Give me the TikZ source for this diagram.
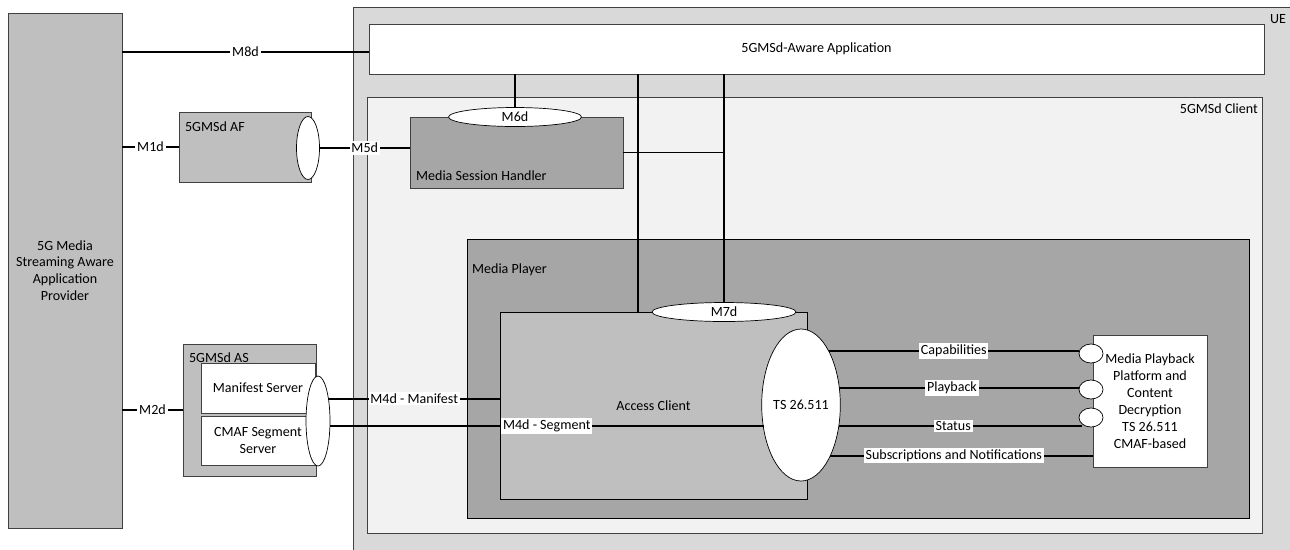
\documentclass[tikz,border=0pt]{standalone}
\usepackage{fontspec}
\setmainfont{Carlito}
\usetikzlibrary{positioning,fit,shapes.geometric}

\begin{document}
\begin{tikzpicture}[
    x=0.02cm, y=-0.02cm,
    box/.style={draw=black!75, inner sep=0pt, outer sep=0pt},
    port/.style={ellipse, draw=black, fill=white, inner sep=0pt, outer sep=0pt},
    lbl/.style={fill=white, inner sep=1pt},
    tag/.style={inner sep=1pt},
    lines/.style={align=center, inner sep=0pt},
    link/.style={line width=1pt},
    every node/.style={font=\fontsize{8}{9.6}\selectfont}
  ]
  \useasboundingbox (0,0) rectangle (1290,549);
  \clip (0,0) rectangle (1290,549);

  % UE side
  \node[box, fill=black!15, fit={(353,7) (1291,550)}] (ue) {};
  \node[tag, anchor=base east] (ueTxt) at ([shift={(-0.06cm,-0.32cm)}]ue.north east) {UE};
  \node[box, fill=white, fit={(369,24) (1264,74)}] (app) {};
  \node[lines] (appTxt) at (app.center) {5GMSd-Aware Application};
  \node[box, fill=black!5, fit={(367,97) (1262,533)}] (client) {};
  \node[tag, anchor=base east] (clientTxt) at ([shift={(-0.04cm,-0.32cm)}]client.north east) {5GMSd Client};

  \node[box, fill=black!35, fit={(410,117) (623,188)}] (msh) {};
  \node[tag, anchor=base west] (mshTxt) at ([shift={(0.08cm,0.16cm)}]msh.south west) {Media Session Handler};
  \node[port, minimum width=2.66cm, minimum height=0.38cm] (m6d) at (515,117) {M6d};

  \node[box, draw=black, fill=black!35, fit={(467,239) (1249,518)}] (mp) {};
  \node[tag, anchor=base west] (mpTxt) at ([shift={(0.06cm,-0.68cm)}]mp.north west) {Media Player};
  \node[box, draw=black, fill=black!25, fit={(500,312) (807,499)}] (ac) {};
  \node[lines] (acTxt) at (ac.center) {Access Client};
  \node[port, minimum width=2.88cm, minimum height=0.38cm] (m7d) at (724,312) {M7d};
  \node[port, minimum width=1.42cm, minimum height=3.04cm] (ts) at (801,405) {TS 26.511};

  \node[box, fill=white, fit={(1093,335) (1207,467)}] (mpp) {};
  \node[lines] (mppTxt) at (mpp.center)
    {Media Playback\\Platform and\\Content\\Decryption\\TS 26.511\\CMAF-based};
  \node[port, minimum width=0.48cm, minimum height=0.38cm] (cap) at (1091,353.5) {};
  \node[port, minimum width=0.48cm, minimum height=0.38cm] (play) at (1091,389.5) {};
  \node[port, minimum width=0.48cm, minimum height=0.38cm] (stat) at (1091,417.5) {};

  % network side
  \node[box, fill=black!25, fit={(8,13) (122,528)}] (prov) {};
  \node[lines] (provTxt) at (prov.center)
    {5G Media\\Streaming Aware\\Application\\Provider};

  \node[box, fill=black!25, fit={(179,112) (311,182)}] (af) {};
  \node[tag, anchor=north west] (afTxt) at ([shift={(0.08cm,-0.16cm)}]af.north west) {5GMSd AF};
  \node[port, minimum width=0.46cm, minimum height=1.26cm] (afPort) at (308,148) {};

  \node[box, fill=black!25, fit={(183,344) (316,476)}] (as) {};
  \node[tag, anchor=north west] (asTxt) at ([shift={(0.08cm,-0.14cm)}]as.north west) {5GMSd AS};
  \node[box, fill=white, fit={(201,363) (315,413)}] (mfs) {};
  \node[lines] (mfsTxt) at (mfs.center) {Manifest Server};
  \node[box, fill=white, fit={(201,416) (315,465)}] (cmaf) {};
  \node[lines] (cmafTxt) at (cmaf.center) {CMAF Segment\\Server};
  \node[port, minimum width=0.48cm, minimum height=1.8cm] (asPort) at (318,421) {};

  % reference points
  \coordinate (appIn) at ([yshift=-0.06cm]app.west);
  \draw[link] (prov.east |- appIn) -- (appIn) node[lbl, midway] {M8d};
  \draw[link] (prov.east |- af.west) -- (af.west) node[lbl, midway] {M1d};
  \draw[link] (prov.east |- as.west) -- (as.west) node[lbl, midway] {M2d};
  \draw[link] (afPort.east) -- (afPort.east -| msh.west) node[lbl, midway] {M5d};
  \draw[link] (m6d.north) -- (m6d.north |- app.south);
  \coordinate (acTop) at ([xshift=-0.31cm]ac.north);
  \draw[line width=0.8pt] (acTop) -- (acTop |- app.south);
  \draw[link] (m7d.north) -- (m7d.north |- app.south);
  \draw[link] (msh.east) -- (msh.east -| m7d.north);
  \draw[link] (asPort.65) -- (asPort.65 -| ac.west) node[lbl, midway] {M4d - Manifest};
  \draw[link] (asPort.-23) -- (asPort.-23 -| ts.212) node[lbl, midway] {M4d - Segment};
  \draw[link] (ts.63) -- (ts.63 -| cap.west) node[lbl, midway] {Capabilities};
  \draw[link] (ts.24) -- (ts.24 -| play.west) node[lbl, pos=0.47] {Playback};
  \draw[link] (ts.-29) -- (ts.-29 -| stat.-144) node[lbl, pos=0.47] {Status};
  \draw[link] (ts.-60) -- (ts.-60 -| mpp.west) node[lbl, pos=0.47] {Subscriptions and Notifications};
\end{tikzpicture}
\end{document}
